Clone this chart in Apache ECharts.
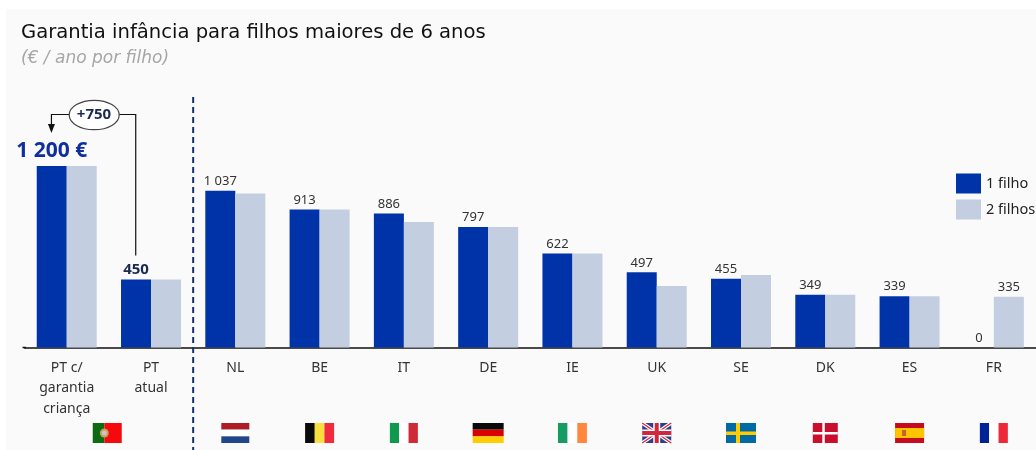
<!DOCTYPE html>
<html><head><meta charset="utf-8">
<style>html,body{margin:0;padding:0;background:#fff}#c{width:1036px;height:450px}</style>
<script src="https://cdn.jsdelivr.net/npm/echarts@6/dist/echarts.min.js"></script>
</head><body><div id="c"></div>
<script>
const categories=['PT c/\ngarantia\ncriança','PT\natual','NL','BE','IT','DE','IE','UK','SE','DK','ES','FR'];
const oneChild=[1200,450,1037,913,886,797,622,497,455,349,339,0];
const twoChildren=[1200,450,1018,913,830,797,622,406,479,349,339,335];
const labelsOne=['1 200 €','450','1 037','913','886','797','622','497','455','349','339','0'];
const flagCodes=['PT',null,'NL','BE','IT','DE','IE','UK','SE','DK','ES','FR'];
const FONT='"Noto Sans"';
const BLUE='#0033A8', LIGHT='#C3CEE0';
const chart=echarts.init(document.getElementById('c'));
const GRID={left:24.6,width:1016.4,top:24,height:323.5};
chart.setOption({
 animation:false,
 backgroundColor:'#fff',
 textStyle:{fontFamily:FONT},
 title:{text:'Garantia infância para filhos maiores de 6 anos',subtext:'(€ / ano por filho)',left:21,top:23,itemGap:7,padding:0,
  textStyle:{fontFamily:'"DejaVu Sans"',fontSize:19.6,fontWeight:'normal',color:'#111'},
  subtextStyle:{fontFamily:'"DejaVu Sans"',fontSize:17,fontStyle:'italic',color:'#a6a6a6'}},
 legend:{orient:'vertical',left:956,top:173.5,icon:'rect',itemWidth:25,itemHeight:20,itemGap:6,padding:0,itemStyle:{borderWidth:0},
  textStyle:{fontFamily:FONT,fontSize:14.5,color:'#222'},data:['1 filho','2 filhos']},
 grid:GRID,
 xAxis:{type:'category',data:categories,axisTick:{show:false},
  axisLine:{lineStyle:{color:'#111',width:1.5}},
  axisLabel:{interval:0,margin:10,fontFamily:FONT,fontSize:14,lineHeight:20.5,color:'#333',verticalAlign:'top'}},
 yAxis:{type:'value',min:0,max:1200*(323.5/181.5),show:false,splitLine:{show:false}},
 series:[
  {name:'1 filho',type:'bar',barWidth:30,barGap:0,itemStyle:{color:BLUE},
   data:oneChild.map((v,i)=>({value:v,label:i===0?{fontSize:21,fontWeight:'bold',color:'#0F2FA0',distance:4}:i===1?{fontSize:15,fontWeight:'bold',color:'#1a2a50',distance:2}:{}})),
   label:{show:true,position:'top',distance:3,fontFamily:FONT,fontSize:13,color:'#333',formatter:p=>labelsOne[p.dataIndex]}},
  {name:'2 filhos',type:'bar',barWidth:30,itemStyle:{color:LIGHT},
   data:twoChildren.map((v,i)=>({value:v,label:{show:i===11}})),
   label:{position:'top',distance:3,fontFamily:FONT,fontSize:13,color:'#333'}}
 ]
});
function rect(x,y,w,h,fill){return{type:'rect',shape:{x,y,width:w,height:h},style:{fill}};}
function line(pts,stroke,w,dash){return{type:'polyline',shape:{points:pts},style:{stroke,lineWidth:w,fill:null,lineDash:dash||null}};}
function flag(code,cx){
 const H=20,y=423,l=(W)=>cx-W/2;
 const vert=(W,c)=>c.map((f,i)=>rect(l(W)+i*W/3,y,W/3,H,f));
 const horiz=(W,c)=>c.map((f,i)=>rect(l(W),y+i*H/3,W,H/3,f));
 switch(code){
  case 'PT':{const W=29;return[rect(l(W),y,W*0.4,H,'#0B6B12'),rect(l(W)+W*0.4,y,W*0.6,H,'#F5090C'),{type:'circle',shape:{cx:l(W)+W*0.4,cy:y+H/2,r:4.5},style:{fill:'#C9A04F'}},{type:'circle',shape:{cx:l(W)+W*0.4,cy:y+H/2,r:2.5},style:{fill:'#C8C4D4'}}];}
  case 'NL':return horiz(28,['#AE1C28','#ffffff','#21468B']);
  case 'BE':return vert(29,['#0a0a0a','#F7DF3E','#EF2B3C']);
  case 'IT':return vert(28,['#0E9A4E','#ffffff','#CE2B37']);
  case 'DE':return horiz(31,['#0a0a0a','#D90000','#FFCE00']);
  case 'IE':return vert(29,['#169B62','#ffffff','#FF883E']);
  case 'FR':return vert(28,['#002395','#ffffff','#ED2939']);
  case 'SE':{const W=30;return[rect(l(W),y,W,H,'#006AA7'),rect(l(W)+10,y,4,H,'#FECC00'),rect(l(W),y+8.5,W,3.5,'#FECC00')];}
  case 'DK':{const W=25;return[rect(l(W),y,W,H,'#C8102E'),rect(l(W)+9.5,y,2.5,H,'#fff'),rect(l(W),y+9,W,2.5,'#fff')];}
  case 'ES':{const W=29;return[rect(l(W),y,W,H,'#C60B1E'),rect(l(W),y+H/4,W,H/2,'#FFC400'),rect(l(W)+7,y+7,4,6,'#C4622D')];}
  case 'UK':{const W=29,x=l(W),r=x+W,b=y+H;return[rect(x,y,W,H,'#2B3F86'),
    line([[x,y],[r,b]],'#fff',3.5),line([[x,b],[r,y]],'#fff',3.5),
    line([[x,y],[r,b]],'#D2263F',1.3),line([[x,b],[r,y]],'#D2263F',1.3),
    rect(cx-3.5,y,7,H,'#fff'),rect(x,y+H/2-3.5,W,7,'#fff'),
    rect(cx-2,y,4,H,'#D2263F'),rect(x,y+H/2-2,W,4,'#D2263F')];}
 }
 return [];
}
const els=[rect(6,9,1030,441,'#FAFAFA')];
els[0].z=-10;els[0].silent=true;
flagCodes.forEach((c,i)=>{
 if(!c)return;
 const px=chart.convertToPixel({xAxisIndex:0},i);
 const shift=c==='PT'?40.5:0;
 flag(c,px+shift).forEach(e=>els.push(e));
});
const dividerX=(chart.convertToPixel({xAxisIndex:0},1)+chart.convertToPixel({xAxisIndex:0},2))/2;
els.push(line([[dividerX,97],[dividerX,450]],'#14306E',2,[6,4]));
const x0=chart.convertToPixel({xAxisIndex:0},0)-15.3, x1=chart.convertToPixel({xAxisIndex:0},1)-15.3;
const topY=chart.convertToPixel({yAxisIndex:0},450);
const baseY=chart.convertToPixel({yAxisIndex:0},0);
els.push(line([[22.5,baseY],[26,baseY]],'#111',1.5));
els.push(line([[119,114.5],[x1,114.5],[x1,topY-24]],'#111',1.2));
els.push(line([[69,114.5],[x0,114.5],[x0,125]],'#111',1.2));
els.push({type:'polygon',shape:{points:[[x0-3.5,124],[x0+3.5,124],[x0,133]]},style:{fill:'#111'}});
els.push({type:'ellipse',shape:{cx:94.2,cy:115,rx:25,ry:14.7},style:{fill:'#fff',stroke:'#444',lineWidth:1.2}});
els.push({type:'text',style:{x:94,y:115,text:'+750',align:'center',verticalAlign:'middle',fontFamily:FONT,fontSize:15,fontWeight:'bold',fill:'#1a2a50'}});
chart.setOption({graphic:{elements:els.map(e=>{if(e.z===undefined)e.z=10;return e;})}});
</script></body></html>
